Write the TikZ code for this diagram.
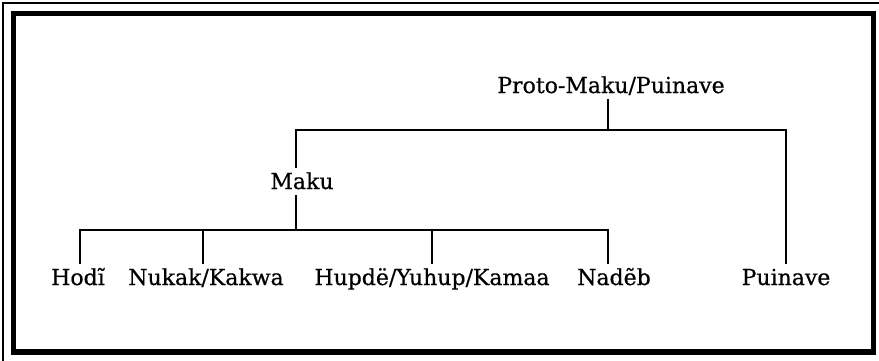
\documentclass[tikz,border=0pt]{standalone}
\usepackage{fontspec}
\setmainfont[FakeBold=0.6]{DejaVu Serif}
\begin{document}
\begin{tikzpicture}[x=1pt,y=-1pt,
  lbl/.style={anchor=base,font=\fontsize{22}{26}\selectfont,inner xsep=0pt,inner ysep=7pt,text height=15pt,text depth=0pt},
  edge/.style={line width=2.7pt,line cap=rect},
  frame/.style={line width=5.8pt},
  thinframe/.style={line width=1.4pt}]
\useasboundingbox (0,0) rectangle (879,361);
% frames
\draw[thinframe] (3,361) -- (3,3) -- (879,3);
\draw[frame] (13.5,13.5) rectangle (873.5,352);
% nodes
\node[lbl] (proto) at (611,93) {Proto-Maku/Puinave};
\node[lbl] (maku) at (302,189) {Maku};
\node[lbl] (hodi) at (78,285) {Hodĩ};
\node[lbl] (nukak) at (206,285) {Nukak/Kakwa};
\node[lbl] (hupde) at (432,285) {Hupdë/Yuhup/Kamaa};
\node[lbl] (nadeb) at (614,285) {Nadẽb};
\node[lbl] (puinave) at (786,285) {Puinave};
% junctions
\coordinate (jproto) at (608,130);
\coordinate (jmaku) at (296,130);
\coordinate (jpuinave) at (786,130);
\coordinate (jmakudown) at (296,230);
\coordinate (jhodi) at (80,230);
\coordinate (jnukak) at (203,230);
\coordinate (jhupde) at (432,230);
\coordinate (jnadeb) at (608,230);
% upper level
\draw[edge] (jproto |- proto.south) -- (jproto);
\draw[edge] (jmaku) -- (jpuinave);
\draw[edge] (jmaku) -- (jmaku |- maku.north);
\draw[edge] (jpuinave) -- (jpuinave |- puinave.north);
% lower level
\draw[edge] (jmakudown |- maku.south) -- (jmakudown);
\draw[edge] (jhodi) -- (jnadeb);
\draw[edge] (jhodi) -- (jhodi |- hodi.north);
\draw[edge] (jnukak) -- (jnukak |- nukak.north);
\draw[edge] (jhupde) -- (jhupde |- hupde.north);
\draw[edge] (jnadeb) -- (jnadeb |- nadeb.north);
\end{tikzpicture}
\end{document}
